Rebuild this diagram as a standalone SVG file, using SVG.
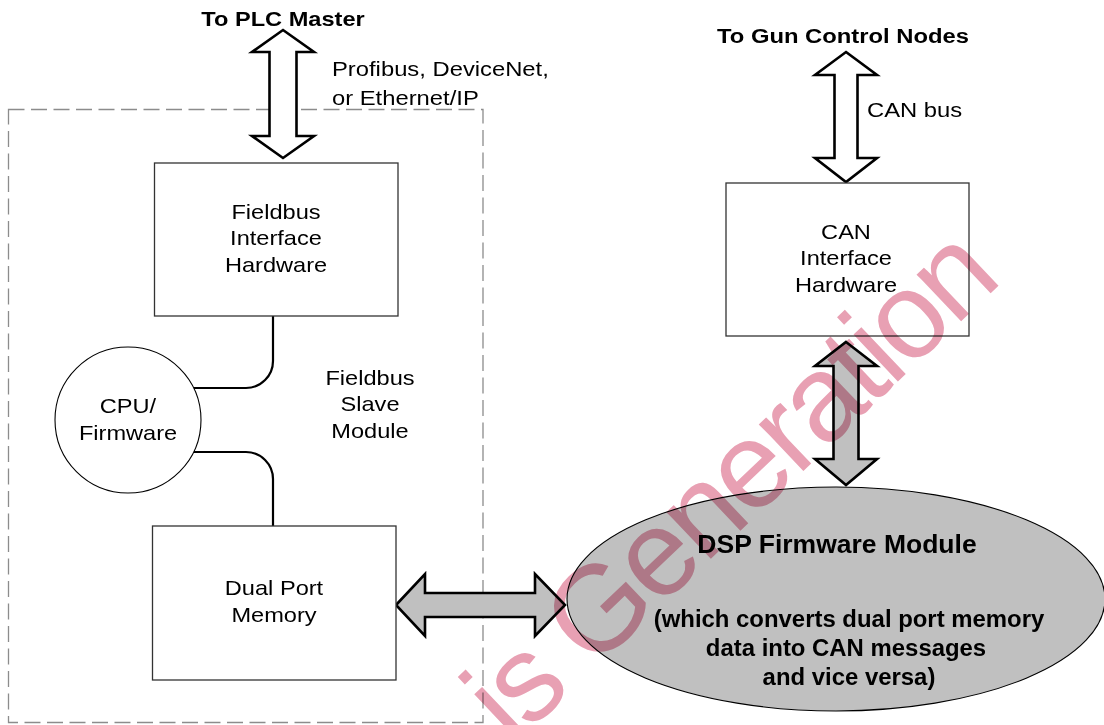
<svg xmlns="http://www.w3.org/2000/svg" width="1104" height="725" viewBox="0 0 1104 725">
<style>
text{font-family:"Liberation Sans",Arial,sans-serif;fill:#000}
.t{font-size:20px}
.b{font-size:20px;font-weight:bold}
.p{font-size:23px;font-weight:bold}
.m{text-anchor:middle}
.box{fill:#fff;stroke:#333;stroke-width:1.3}
.wa{fill:#fff;stroke:#000;stroke-width:2.6;stroke-linejoin:miter}
.ga{fill:#c0c0c0;stroke:#000;stroke-width:2.6;stroke-linejoin:miter}
.ln{fill:none;stroke:#000;stroke-width:2.2}
.wm{font-size:122px;letter-spacing:-4px;fill:#e8a0b3;mix-blend-mode:multiply}
</style>
<rect width="1104" height="725" fill="#fff"/>
<g id="slave-module">
<rect x="8.5" y="109.5" width="474.5" height="613" fill="none" stroke="#8c8c8c" stroke-width="1.3" stroke-dasharray="16 6.5"/>
<text class="t m" transform="translate(370 385) scale(1.18 1)">Fieldbus</text>
<text class="t m" transform="translate(370 411) scale(1.18 1)">Slave</text>
<text class="t m" transform="translate(370 438) scale(1.18 1)">Module</text>
</g>
<g id="labels">
<text class="b m" transform="translate(283 26) scale(1.18 1)">To PLC Master</text>
<text class="b m" transform="translate(843 43) scale(1.19 1)">To Gun Control Nodes</text>
<text class="t" transform="translate(332 76) scale(1.19 1)">Profibus, DeviceNet,</text>
<text class="t" transform="translate(332 105) scale(1.19 1)">or Ethernet/IP</text>
<text class="t" transform="translate(867 117) scale(1.19 1)">CAN bus</text>
</g>
<g id="connectors">
<polygon class="wa" points="283,30 314,52 296.5,52 296.5,136 314,136 283,158 252,136 269.5,136 269.5,52 252,52"/>
<polygon class="wa" points="846,52 877,75 857.5,75 857.5,158 877,158 846,182 815,158 834.5,158 834.5,75 815,75"/>
<polygon class="ga" points="846,342 877,366 858.5,366 858.5,459 877,459 846,485 815,459 833.5,459 833.5,366 815,366"/>
<polygon class="ga" points="396,605 425,574 425,593 535,593 535,574 565,605 535,636 535,617 425,617 425,636"/>
<path class="ln" d="M273,316 V361 A27,27 0 0 1 246,388 H194"/>
<path class="ln" d="M194,452 H246 A27,27 0 0 1 273,479 V526"/>
</g>
<g id="fieldbus-hw">
<rect class="box" x="154.5" y="163" width="243.5" height="153"/>
<text class="t m" transform="translate(276 219) scale(1.18 1)">Fieldbus</text>
<text class="t m" transform="translate(276 245) scale(1.18 1)">Interface</text>
<text class="t m" transform="translate(276 272) scale(1.18 1)">Hardware</text>
</g>
<g id="cpu">
<circle cx="128" cy="420" r="73" fill="#fff" stroke="#000" stroke-width="1.1"/>
<text class="t m" transform="translate(128 413) scale(1.18 1)">CPU/</text>
<text class="t m" transform="translate(128 440) scale(1.18 1)">Firmware</text>
</g>
<g id="dual-port">
<rect class="box" x="152.5" y="526" width="243.5" height="154"/>
<text class="t m" transform="translate(274 595) scale(1.18 1)">Dual Port</text>
<text class="t m" transform="translate(274 622) scale(1.18 1)">Memory</text>
</g>
<g id="can-hw">
<rect class="box" x="726" y="183" width="243" height="153"/>
<text class="t m" transform="translate(846 239) scale(1.18 1)">CAN</text>
<text class="t m" transform="translate(846 265) scale(1.18 1)">Interface</text>
<text class="t m" transform="translate(846 292) scale(1.18 1)">Hardware</text>
</g>
<g id="dsp">
<ellipse cx="836" cy="599" rx="269" ry="112" fill="#c0c0c0" stroke="#000" stroke-width="1.1"/>
<text class="m" x="837" y="553" style="font-size:26.5px;font-weight:bold">DSP Firmware Module</text>
<text class="p m" transform="translate(849 627) scale(1.04 1)">(which converts dual port memory</text>
<text class="p m" transform="translate(846 656) scale(1.04 1)">data into CAN messages</text>
<text class="p m" transform="translate(849 685) scale(1.04 1)">and vice versa)</text>
</g>
<text class="wm" text-anchor="middle" transform="translate(757,515) rotate(-43.5)">is Generation</text>
</svg>
